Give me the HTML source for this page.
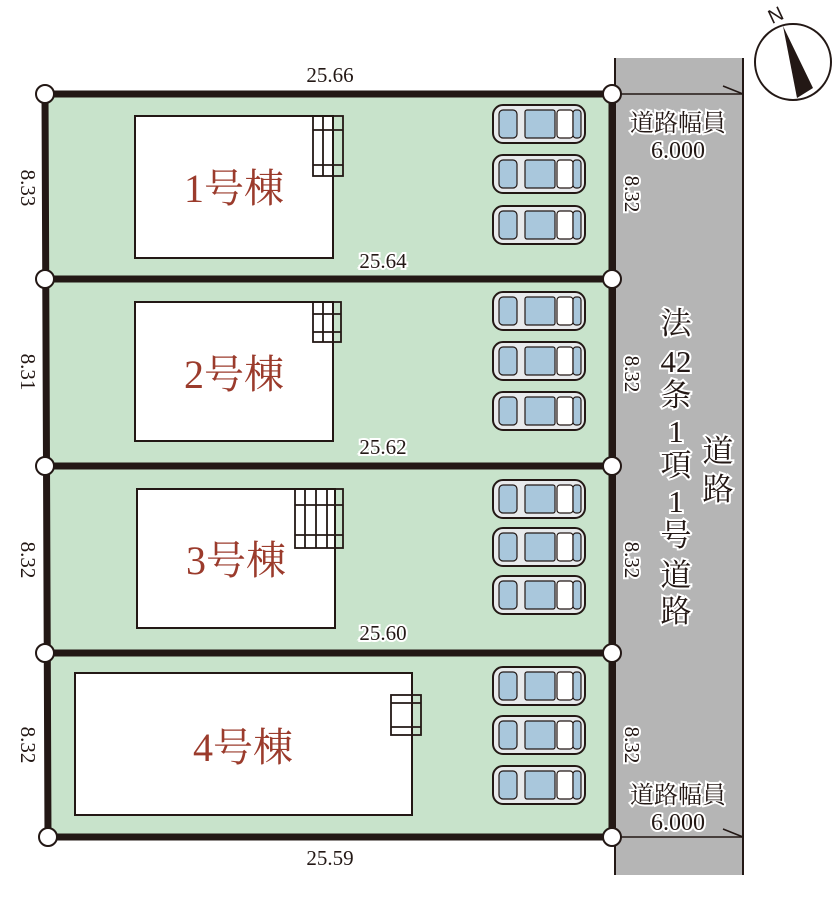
<!DOCTYPE html>
<html><head><meta charset="utf-8"><style>
html,body{margin:0;padding:0;background:#fff}
svg{display:block}
text{font-family:"Liberation Serif","Noto Serif CJK SC",serif;fill:#231815}
.b{fill:#9b3b2c;font-size:40px}
.d{font-size:21px}
.r{paint-order:stroke;stroke:#fff;stroke-width:4px}
.v{font-size:31px}
</style></head><body>
<svg width="840" height="903" viewBox="0 0 840 903" xmlns="http://www.w3.org/2000/svg">
<defs>
<g id="car">
<rect x="0" y="0" width="92" height="38" rx="10" fill="#e8eaec" stroke="#231815" stroke-width="2"/>
<rect x="6" y="5" width="18" height="28" rx="4" fill="#a9c7dc" stroke="#231815" stroke-width="1.2"/>
<rect x="32" y="5" width="30" height="28" rx="2" fill="#a9c7dc" stroke="#231815" stroke-width="1.2"/>
<rect x="64" y="5" width="16" height="28" rx="3" fill="#fff" stroke="#231815" stroke-width="1.2"/>
<rect x="80" y="5" width="8" height="28" rx="3" fill="#a9c7dc" stroke="#231815" stroke-width="1.2"/>
</g>
</defs>
<rect x="615" y="58" width="128" height="817" fill="#b5b5b5"/>
<line x1="615" y1="58" x2="615" y2="875" stroke="#231815" stroke-width="2"/>
<line x1="743" y1="58" x2="743" y2="875" stroke="#231815" stroke-width="2"/>
<line x1="612" y1="94" x2="743" y2="94" stroke="#231815" stroke-width="1.5"/>
<line x1="723" y1="86" x2="743" y2="94" stroke="#231815" stroke-width="1.5"/>
<line x1="612" y1="837" x2="743" y2="837" stroke="#231815" stroke-width="1.5"/>
<line x1="723" y1="829" x2="743" y2="837" stroke="#231815" stroke-width="1.5"/>
<polygon points="45,94 612,94 612,837 48,837" fill="#c8e3cb"/>
<g stroke="#231815" stroke-width="7" fill="none">
<polyline points="45,94 612,94 612,837 48,837 45,94"/>
<line x1="45" y1="279" x2="612" y2="279"/>
<line x1="45" y1="466" x2="612" y2="466"/>
<line x1="45" y1="653" x2="612" y2="653"/>
</g>
<g fill="#fff" stroke="#231815" stroke-width="2">
<rect x="135" y="116" width="198" height="142"/>
<rect x="135" y="302" width="198" height="139"/>
<rect x="137" y="489" width="198" height="139"/>
<rect x="75" y="673" width="337" height="142"/>
</g>
<g fill="none" stroke="#231815" stroke-width="1.8">
<rect x="313" y="116" width="30" height="60"/><line x1="323" y1="116" x2="323" y2="176"/><line x1="333" y1="116" x2="333" y2="176"/><line x1="313" y1="130" x2="343" y2="130"/><line x1="313" y1="165" x2="343" y2="165"/>
<rect x="313" y="302" width="28" height="40"/><line x1="323" y1="302" x2="323" y2="342"/><line x1="313" y1="314" x2="341" y2="314"/><line x1="313" y1="332" x2="341" y2="332"/>
<rect x="295" y="489" width="48" height="59"/><line x1="305" y1="489" x2="305" y2="548"/><line x1="316" y1="489" x2="316" y2="548"/><line x1="327" y1="489" x2="327" y2="548"/><line x1="295" y1="505" x2="343" y2="505"/><line x1="295" y1="535" x2="343" y2="535"/>
<rect x="391" y="695" width="30" height="40"/><line x1="412" y1="695" x2="412" y2="735"/><line x1="391" y1="703" x2="421" y2="703"/><line x1="391" y1="727" x2="421" y2="727"/>
</g>
<text class="b" x="234" y="202" text-anchor="middle">1号棟</text>
<text class="b" x="234" y="388" text-anchor="middle">2号棟</text>
<text class="b" x="236" y="574" text-anchor="middle">3号棟</text>
<text class="b" x="243" y="761" text-anchor="middle">4号棟</text>
<use href="#car" x="493" y="105"/><use href="#car" x="493" y="155"/><use href="#car" x="493" y="206"/>
<use href="#car" x="493" y="292"/><use href="#car" x="493" y="342"/><use href="#car" x="493" y="392"/>
<use href="#car" x="493" y="480"/><use href="#car" x="493" y="528"/><use href="#car" x="493" y="576"/>
<use href="#car" x="493" y="667"/><use href="#car" x="493" y="716"/><use href="#car" x="493" y="766"/>
<g fill="#fff" stroke="#231815" stroke-width="2">
<circle cx="45" cy="94" r="9"/><circle cx="612" cy="94" r="9"/>
<circle cx="45" cy="279" r="9"/><circle cx="612" cy="279" r="9"/>
<circle cx="45" cy="466" r="9"/><circle cx="612" cy="466" r="9"/>
<circle cx="45" cy="653" r="9"/><circle cx="612" cy="653" r="9"/>
<circle cx="48" cy="837" r="9"/><circle cx="612" cy="837" r="9"/>
</g>
<text class="d" x="330" y="82" text-anchor="middle">25.66</text>
<text class="d r" x="383" y="268" text-anchor="middle">25.64</text>
<text class="d r" x="383" y="454" text-anchor="middle">25.62</text>
<text class="d r" x="383" y="640" text-anchor="middle">25.60</text>
<text class="d" x="330" y="865" text-anchor="middle">25.59</text>
<g class="d">
<text transform="translate(21,188) rotate(90)" text-anchor="middle">8.33</text>
<text transform="translate(21,372) rotate(90)" text-anchor="middle">8.31</text>
<text transform="translate(21,560) rotate(90)" text-anchor="middle">8.32</text>
<text transform="translate(21,745) rotate(90)" text-anchor="middle">8.32</text>
<text class="r" transform="translate(625,194) rotate(90)" text-anchor="middle">8.32</text>
<text class="r" transform="translate(625,374) rotate(90)" text-anchor="middle">8.32</text>
<text class="r" transform="translate(625,560) rotate(90)" text-anchor="middle">8.32</text>
<text class="r" transform="translate(625,745) rotate(90)" text-anchor="middle">8.32</text>
</g>
<text class="r" style="font-size:24px" x="678" y="131" text-anchor="middle">道路幅員</text>
<text class="r" style="font-size:24px" x="678" y="158" text-anchor="middle">6.000</text>
<text class="r" style="font-size:24px" x="678" y="803" text-anchor="middle">道路幅員</text>
<text class="r" style="font-size:24px" x="678" y="830" text-anchor="middle">6.000</text>
<g class="r v" text-anchor="middle">
<text x="676" y="334">法</text>
<text x="676" y="372">42</text>
<text x="676" y="406">条</text>
<text x="676" y="442">1</text>
<text x="676" y="476">項</text>
<text x="676" y="512">1</text>
<text x="676" y="546">号</text>
<text x="676" y="586">道</text>
<text x="676" y="622">路</text>
<text x="718" y="462">道</text>
<text x="718" y="500">路</text>
</g>
<circle cx="793" cy="62" r="38" fill="#fff" stroke="#231815" stroke-width="2"/>
<polygon points="783,26 797,98 813,88" fill="#231815"/>
<text x="768" y="22" style="font-size:20px;font-family:'Liberation Sans',sans-serif" transform="rotate(-25 775 14)">N</text>
</svg>
</body></html>
